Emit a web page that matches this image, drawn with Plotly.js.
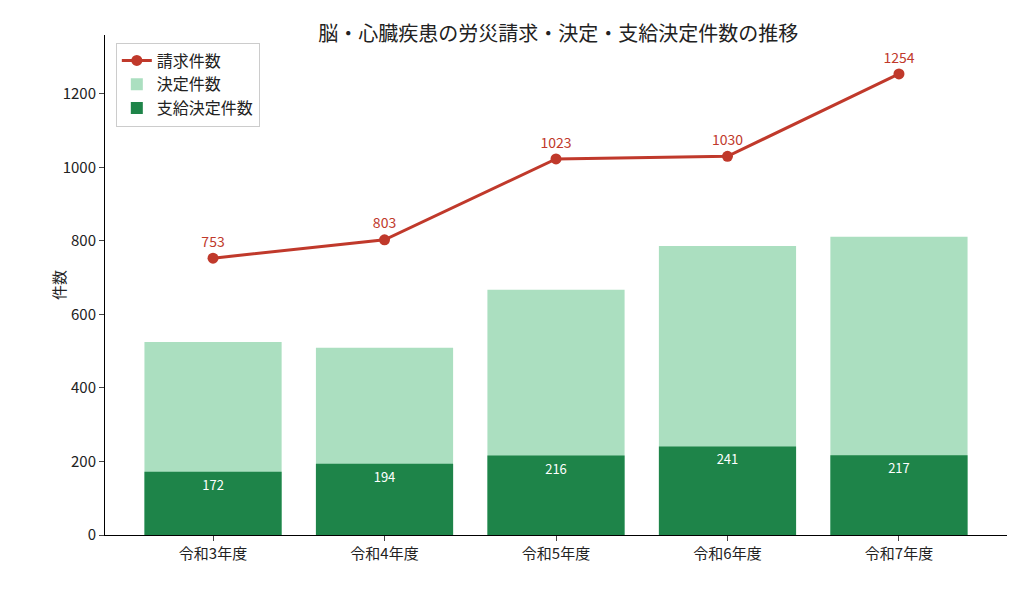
<!DOCTYPE html>
<html><head><meta charset="utf-8">
<script src="https://cdn.plot.ly/plotly-3.0.1.min.js"></script>
<style>body{margin:0}</style></head>
<body><div id="myDiv" style="width:1028px;height:589px"></div>
<script>
const categories = ['令和3年度', '令和4年度', '令和5年度', '令和6年度', '令和7年度'];
const claims = [753, 803, 1023, 1030, 1254];
const decided = [525, 509, 667, 786, 811];
const approved = [172, 194, 216, 241, 217];

const font = 'Noto Sans CJK JP, sans-serif';

const traces = [
  { x: categories, y: claims, type: 'scatter', mode: 'lines+markers+text', name: '請求件数',
    line: { color: '#c0392b', width: 3 }, marker: { size: 11, color: '#c0392b' },
    text: claims.map(String), textposition: 'top center', textfont: { color: '#c0392b', size: 14 },
    cliponaxis: false, hoverinfo: 'none' },
  { x: categories, y: decided, type: 'bar', name: '決定件数', marker: { color: '#abdfc0' }, width: 0.8, hoverinfo: 'none' },
  { x: categories, y: approved, type: 'bar', name: '支給決定件数', marker: { color: '#1e8449' }, width: 0.8,
    text: approved.map(String), textposition: 'outside', textfont: { color: '#ffffff', size: 13 }, hoverinfo: 'none' }
];
// white labels just inside top of dark bars: use annotation-free approach via texttemplate positioned inside
traces[2].textposition = 'inside';
traces[2].insidetextanchor = 'end';
traces[2].textangle = 0;

const layout = {
  width: 1028, height: 589,
  font: { family: font, size: 15, color: '#222' },
  title: { text: '脳・心臓疾患の労災請求・決定・支給決定件数の推移', x: 0.543, y: 0.955, font: { size: 20 } },
  barmode: 'overlay',
  margin: { l: 105, r: 21, t: 35, b: 54 },
  xaxis: { range: [-0.63, 4.63], showline: true, linecolor: '#000', ticks: 'outside', ticklen: 5, tickfont: { size: 15 } },
  yaxis: { title: { text: '件数', font: { size: 15 } }, range: [0, 1360], tickvals: [0, 200, 400, 600, 800, 1000, 1200],
    showline: true, linecolor: '#000', ticks: 'outside', ticklen: 5, showgrid: false, zeroline: false, tickfont: { size: 15 } },
  legend: { x: 0.012, y: 0.985, bordercolor: '#ccc', borderwidth: 1, font: { size: 16 }, traceorder: 'normal' },
  plot_bgcolor: '#fff', paper_bgcolor: '#fff'
};
Plotly.newPlot('myDiv', [traces[0], traces[1], traces[2]], layout, { displayModeBar: false, staticPlot: true });
</script></body></html>
